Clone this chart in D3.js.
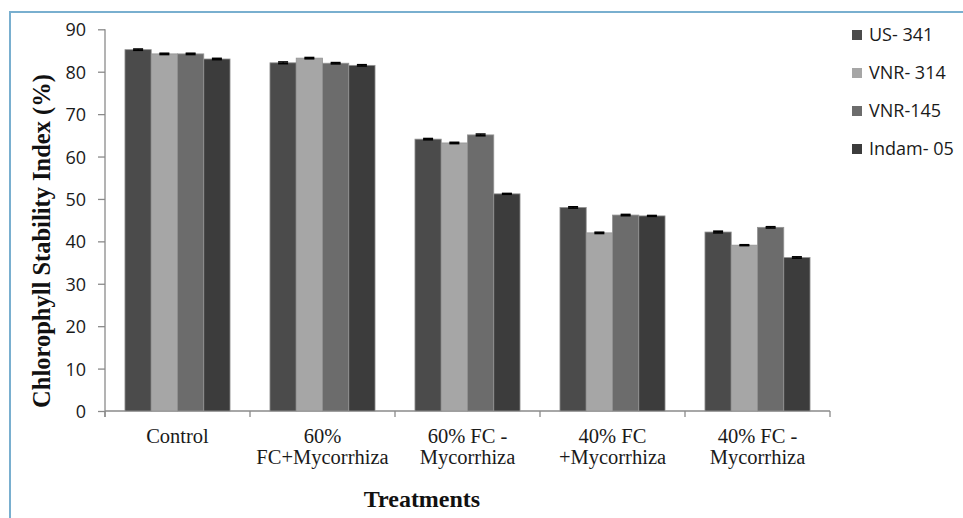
<!DOCTYPE html>
<html>
<head>
<meta charset="utf-8">
<script src="https://cdn.jsdelivr.net/npm/d3@7"></script>
<style>
  html, body { margin: 0; padding: 0; background: #fff; }
  svg { display: block; }
</style>
</head>
<body>
<svg id="chart" width="963" height="518"></svg>
<script>
// Treatment groups (two-line labels) and cultivar series
const treatments = ["Control", "60% FC+Mycorrhiza", "60% FC - Mycorrhiza", "40% FC +Mycorrhiza", "40% FC - Mycorrhiza"];
const treatmentLines = [["Control"], ["60%", "FC+Mycorrhiza"], ["60% FC -", "Mycorrhiza"], ["40% FC", "+Mycorrhiza"], ["40% FC -", "Mycorrhiza"]];
const cultivars = ["US- 341", "VNR- 314", "VNR-145", "Indam- 05"];

// Chlorophyll stability index (%) per cultivar, in treatment order
const us341   = [85.2, 82.1, 64.1, 48.0, 42.2];
const vnr314  = [84.2, 83.2, 63.2, 42.0, 39.1];
const vnr145  = [84.2, 82.0, 65.1, 46.2, 43.3];
const indam05 = [83.0, 81.5, 51.2, 46.0, 36.2];

// Standard error of each mean
const us341Err   = [0.15, 0.2, 0.15, 0.15, 0.2];
const vnr314Err  = [0.15, 0.15, 0.15, 0.15, 0.1];
const vnr145Err  = [0.15, 0.15, 0.2, 0.15, 0.15];
const indam05Err = [0.15, 0.15, 0.1, 0.1, 0.15];

const yTicks = [0, 10, 20, 30, 40, 50, 60, 70, 80, 90];
const colors = ["#4b4b4b", "#a6a6a6", "#6c6c6c", "#3c3c3c"];

const seriesValues = [us341, vnr314, vnr145, indam05];
const seriesErrors = [us341Err, vnr314Err, vnr145Err, indam05Err];

const svg = d3.select("#chart");

// Frame lines along the top and left edges
svg.append("line").attr("x1", 10).attr("x2", 963).attr("y1", 12).attr("y2", 12)
  .attr("stroke", "#79afcf").attr("stroke-width", 2);
svg.append("line").attr("x1", 10).attr("x2", 10).attr("y1", 11).attr("y2", 518)
  .attr("stroke", "#79afcf").attr("stroke-width", 2);

const plotLeft = 105, plotRight = 830, plotTop = 29.3, plotBottom = 411;

const x = d3.scaleBand().domain(treatments).range([plotLeft, plotRight]).paddingInner(0).paddingOuter(0);
const xs = d3.scaleBand().domain(cultivars).range([0, x.bandwidth()]).paddingInner(0).paddingOuter(0.76);
const y = d3.scaleLinear().domain([0, 90]).range([plotBottom, plotTop]);

// Y axis
const yAxis = d3.axisLeft(y).tickValues(yTicks).tickSize(7).tickPadding(12).tickSizeOuter(0);
const gy = svg.append("g").attr("transform", `translate(${plotLeft},0)`).call(yAxis);
gy.select(".domain").attr("stroke", "#8a8a8a").attr("stroke-width", 1.3)
  .attr("d", `M0,${y(90)}V${plotBottom + 6}`);
gy.selectAll(".tick line").attr("stroke", "#8a8a8a").attr("stroke-width", 1.3);
gy.selectAll(".tick text").attr("font-family", "'Open Sans', sans-serif").attr("font-size", 18)
  .attr("fill", "#1a1a1a").attr("dy", "0.36em");

// X axis: baseline with boundary ticks between groups
const boundaries = treatments.map(t => x(t)).concat([plotRight]);
const gx = svg.append("g");
gx.append("line").attr("x1", plotLeft).attr("x2", plotRight).attr("y1", plotBottom).attr("y2", plotBottom)
  .attr("stroke", "#8a8a8a").attr("stroke-width", 1.3);
gx.selectAll("line.bt").data(boundaries).join("line").attr("class", "bt")
  .attr("x1", d => d).attr("x2", d => d).attr("y1", plotBottom).attr("y2", plotBottom + 6)
  .attr("stroke", "#8a8a8a").attr("stroke-width", 1.3);

// Category labels
treatments.forEach((t, i) => {
  const txt = svg.append("text").attr("x", x(t) + x.bandwidth() / 2).attr("y", 443)
    .attr("text-anchor", "middle").attr("font-family", "'Liberation Serif', 'Times New Roman', serif")
    .attr("font-size", 20.5).attr("fill", "#1a1a1a");
  treatmentLines[i].forEach((line, j) => {
    txt.append("tspan").attr("x", x(t) + x.bandwidth() / 2).attr("dy", j === 0 ? 0 : 21).text(line);
  });
});

// Bars
const groups = svg.append("g").selectAll("g").data(cultivars).join("g")
  .attr("fill", (d, i) => colors[i]);
groups.each(function(c, si) {
  const g = d3.select(this);
  g.selectAll("rect").data(treatments).join("rect")
    .attr("x", t => x(t) + xs(c))
    .attr("width", xs.bandwidth())
    .attr("y", (t, ti) => y(seriesValues[si][ti]))
    .attr("height", (t, ti) => y(0) - y(seriesValues[si][ti]))
    .attr("stroke", "#939393").attr("stroke-width", 0.8);
});

// Error bars (short black caps at each bar top)
groups.each(function(c, si) {
  const g = d3.select(this);
  treatments.forEach((t, ti) => {
    const cx = x(t) + xs(c) + xs.bandwidth() / 2;
    const v = seriesValues[si][ti], e = seriesErrors[si][ti];
    g.append("line").attr("x1", cx).attr("x2", cx).attr("y1", y(v + e)).attr("y2", y(v - e))
      .attr("stroke", "#000").attr("stroke-width", 1);
    g.append("line").attr("x1", cx - 5).attr("x2", cx + 5).attr("y1", y(v + e)).attr("y2", y(v + e))
      .attr("stroke", "#000").attr("stroke-width", 1.6);
    g.append("line").attr("x1", cx - 5).attr("x2", cx + 5).attr("y1", y(v - e)).attr("y2", y(v - e))
      .attr("stroke", "#000").attr("stroke-width", 1.6);
  });
});

// Axis titles
svg.append("text")
  .attr("transform", `translate(50,${(70 + 412) / 2}) rotate(-90)`)
  .attr("text-anchor", "middle")
  .attr("font-family", "'Liberation Serif', 'Times New Roman', serif")
  .attr("font-weight", "bold").attr("font-size", 24.5).attr("fill", "#111")
  .text("Chlorophyll Stability Index (%)");

svg.append("text").attr("x", 422).attr("y", 507).attr("text-anchor", "middle")
  .attr("font-family", "'Liberation Serif', 'Times New Roman', serif")
  .attr("font-weight", "bold").attr("font-size", 24).attr("fill", "#111")
  .text("Treatments");

// Legend
const legend = svg.append("g").selectAll("g").data(cultivars).join("g")
  .attr("transform", (d, i) => `translate(852,${35 + i * 38})`);
legend.append("rect").attr("x", 0).attr("y", -5).attr("width", 10).attr("height", 10)
  .attr("fill", (d, i) => colors[i]);
legend.append("text").attr("x", 17).attr("y", 0).attr("dy", "0.36em")
  .attr("font-family", "'Open Sans', sans-serif").attr("font-size", 18).attr("fill", "#1a1a1a")
  .text(d => d);
</script>
</body>
</html>
